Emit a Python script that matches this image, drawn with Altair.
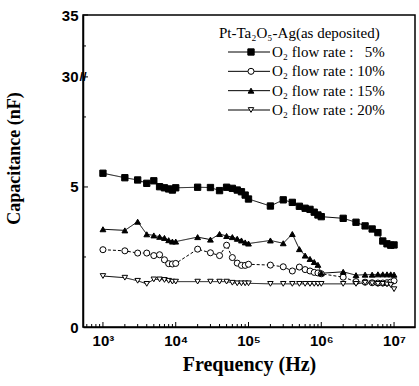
import altair as alt
import pandas as pd

# ---------------- data ----------------
freqs = [1e3, 2e3, 3e3, 4e3, 5e3, 6e3, 7e3, 8e3, 9e3,
         1e4, 2e4, 3e4, 4e4, 5e4, 6e4, 7e4, 8e4, 9e4,
         1e5, 2e5, 3e5, 4e5, 5e5, 6e5, 7e5, 8e5, 9e5,
         1e6, 2e6, 3e6, 4e6, 5e6, 6e6, 7e6, 8e6, 9e6,
         1e7]

cap_5 = [5.49, 5.33, 5.25, 5.13, 5.22, 5.01, 4.97, 4.93, 4.89,
         4.97, 4.99, 4.98, 4.87, 4.99, 4.95, 4.89, 4.83, 4.71,
         4.57, 4.32, 4.54, 4.45, 4.31, 4.24, 4.20, 4.10, 4.00,
         3.94, 3.88, 3.74, 3.61, 3.50, 3.37, 3.07, 2.97, 2.92,
         2.93]
cap_10 = [2.76, 2.72, 2.64, 2.64, 2.55, 2.58, 2.40, 2.26, 2.25,
          2.27, 2.78, 2.65, 2.55, 2.92, 2.48, 2.28, 2.20, 2.20,
          2.24, 2.21, 2.15, 2.00, 2.14, 2.05, 2.00, 1.95, 1.93,
          1.90, 1.78, 1.62, 1.60, 1.58, 1.57, 1.57, 1.58, 1.60,
          1.65]
cap_15 = [3.49, 3.45, 3.76, 3.31, 3.27, 3.22, 3.18, 3.10, 3.05,
          3.05, 3.21, 3.12, 3.32, 3.25, 3.21, 3.15, 3.09, 3.02,
          2.98, 3.09, 2.99, 3.32, 2.78, 2.55, 2.43, 2.32, 2.22,
          1.92, 1.97, 1.85, 1.87, 1.87, 1.88, 1.88, 1.88, 1.88,
          1.87]
cap_20 = [1.82, 1.76, 1.65, 1.54, 1.70, 1.70, 1.68, 1.65, 1.62,
          1.62, 1.62, 1.62, 1.62, 1.62, 1.58, 1.56, 1.56, 1.56,
          1.56, 1.54, 1.54, 1.54, 1.54, 1.54, 1.54, 1.54, 1.54,
          1.54, 1.54, 1.54, 1.58, 1.56, 1.54, 1.54, 1.52, 1.50,
          1.35]

series_names = ["5%", "10%", "15%", "20%"]
series_labels = ["O\u2082 flow rate :  \u20075%", "O\u2082 flow rate : 10%",
                 "O\u2082 flow rate : 15%", "O\u2082 flow rate : 20%"]
legend_title = "Pt-Ta\u2082O\u2085-Ag(as deposited)"
shapes = ["square", "circle", "triangle-up", "triangle-down"]
fills = ["black", "white", "black", "white"]
sizes = [40, 30, 55, 45]
dashes = [[1, 0], [3, 2], [1, 0], [1, 0]]

x_tick_values = [1e3, 1e4, 1e5, 1e6, 1e7]
x_tick_labels = ["10\u00b3", "10\u2074", "10\u2075", "10\u2076", "10\u2077"]
x_minor = [m * d for d in [1e2, 1e3, 1e4, 1e5, 1e6, 1e7] for m in range(2, 10)]
x_domain = [532, 1.94e7]

# broken y axis: lower part 0..~9 linear, upper 30..35 compressed
Y_BREAK_LOW = 8.93   # plot position of 30
Y_TOP = 11.14        # plot position of 35
y_tick_display = [0, 5, 30, 35]
y_tick_labels = ["0", "5", "30", "35"]
y_minor_display = [2.5, 7.5, 32.5]


def ypos(v):
    if v < 30:
        return v
    return Y_BREAK_LOW + (v - 30) * (Y_TOP - Y_BREAK_LOW) / 5.0


W, H = 332, 312

rows = []
for name, vals in zip(series_names, [cap_5, cap_10, cap_15, cap_20]):
    for f, v in zip(freqs, vals):
        rows.append({"f": f, "c": v, "s": name})
df = pd.DataFrame(rows)

xs = alt.Scale(type="log", domain=x_domain, nice=False)
ys = alt.Scale(domain=[0, Y_TOP], nice=False, zero=False)

label_expr = " : ".join(
    f"datum.value < {v * 1.5} ? '{l}'" for v, l in zip(x_tick_values, x_tick_labels)
) + " : ''"
y_label_expr = " : ".join(
    f"datum.value < {ypos(v) + 0.5} ? '{l}'" for v, l in zip(y_tick_display, y_tick_labels)
) + " : ''"

x_enc = alt.X("f:Q", scale=xs,
              axis=alt.Axis(values=x_tick_values, labelExpr=label_expr, ticks=False,
                            grid=False, domainColor="black", domainWidth=1.5,
                            labelFont="Liberation Sans", labelFontSize=15,
                            labelFontWeight="bold",
                            labelColor="black", labelPadding=6,
                            title="Frequency (Hz)", titleFont="Liberation Serif",
                            titleFontSize=20, titleFontWeight="bold", titleColor="black",
                            titlePadding=6))
y_enc = alt.Y("c:Q", scale=ys,
              axis=alt.Axis(values=[ypos(v) for v in y_tick_display],
                            labelExpr=y_label_expr, ticks=False, grid=False,
                            domainColor="black", domainWidth=1.5,
                            labelFont="Liberation Sans", labelFontSize=15,
                            labelFontWeight="bold",
                            labelColor="black", labelPadding=5,
                            title="Capacitance (nF)", titleFont="Liberation Serif",
                            titleFontSize=18, titleFontWeight="bold", titleColor="black",
                            titleX=-60, titleY=143))

series_scale = dict(domain=series_names)

lines = alt.Chart(df).mark_line(color="black", strokeWidth=1).encode(
    x=x_enc, y=y_enc,
    detail="s:N",
    strokeDash=alt.StrokeDash("s:N", scale=alt.Scale(range=dashes, **series_scale), legend=None),
)
points = alt.Chart(df).mark_point(filled=True, stroke="black", strokeWidth=1, opacity=1).encode(
    x=alt.X("f:Q", scale=xs), y=alt.Y("c:Q", scale=ys),
    shape=alt.Shape("s:N", scale=alt.Scale(range=shapes, **series_scale), legend=None),
    fill=alt.Fill("s:N", scale=alt.Scale(range=fills, **series_scale), legend=None),
    size=alt.Size("s:N", scale=alt.Scale(range=sizes, **series_scale), legend=None),
)

xmaj = alt.Chart(pd.DataFrame({"f": x_tick_values})).mark_rule(color="black", strokeWidth=1).encode(
    x=alt.X("f:Q", scale=xs), y=alt.value(H), y2=alt.value(H - 5))
xmin = alt.Chart(pd.DataFrame({"f": [v for v in x_minor if x_domain[0] < v < x_domain[1]]})).mark_rule(
    color="black", strokeWidth=1).encode(
    x=alt.X("f:Q", scale=xs), y=alt.value(H), y2=alt.value(H - 3))
ymaj = alt.Chart(pd.DataFrame({"c": [ypos(v) for v in y_tick_display[1:]]})).mark_rule(
    color="black", strokeWidth=1).encode(
    y=alt.Y("c:Q", scale=ys), x=alt.value(0), x2=alt.value(5))
ymin = alt.Chart(pd.DataFrame({"c": [ypos(v) for v in y_minor_display]})).mark_rule(
    color="black", strokeWidth=1).encode(
    y=alt.Y("c:Q", scale=ys), x=alt.value(0), x2=alt.value(3))
brk = alt.Chart(pd.DataFrame({"c": [Y_BREAK_LOW], "t": ["//"]})).mark_text(
    font="Liberation Sans", fontSize=13, fontWeight="bold", color="black", dx=0).encode(
    y=alt.Y("c:Q", scale=ys), x=alt.value(0), text="t:N")

main = alt.layer(lines, points, xmaj, xmin, ymaj, ymin, brk)

# ---------------- legend ----------------
leg = pd.DataFrame({"row": [0, 1, 2, 3], "s": series_names, "label": series_labels})
ly = alt.Y("row:Q", scale=alt.Scale(domain=[0, 3], range=[37, 95]), axis=None)
leg_lines = alt.Chart(leg).mark_rule(color="black", strokeWidth=1).encode(
    y=ly, x=alt.value(145), x2=alt.value(187))
leg_pts = alt.Chart(leg).mark_point(filled=True, stroke="black", strokeWidth=1, opacity=1).encode(
    y=ly, x=alt.value(168),
    shape=alt.Shape("s:N", scale=alt.Scale(range=shapes, **series_scale), legend=None),
    fill=alt.Fill("s:N", scale=alt.Scale(range=fills, **series_scale), legend=None),
    size=alt.Size("s:N", scale=alt.Scale(range=sizes, **series_scale), legend=None),
)
leg_txt = alt.Chart(leg).mark_text(align="left", baseline="middle", font="Liberation Serif",
                                   fontSize=15, color="black").encode(
    y=ly, x=alt.value(189), text="label:N")
leg_title = alt.Chart(pd.DataFrame({"t": [legend_title]})).mark_text(
    align="left", baseline="middle", font="Liberation Serif", fontSize=15, color="black").encode(
    x=alt.value(136), y=alt.value(18), text="t:N")

legend = alt.layer(leg_lines, leg_pts, leg_txt, leg_title)

chart = alt.layer(main, legend).resolve_scale(y="independent").properties(
    width=W, height=H,
    autosize=alt.AutoSizeParams(type="none"),
    padding={"left": 83, "top": 15, "right": 4, "bottom": 59},
    background="white",
).configure_view(stroke="black", strokeWidth=1.5)

chart.save("out.html", embed_options={"renderer": "svg", "actions": False})
